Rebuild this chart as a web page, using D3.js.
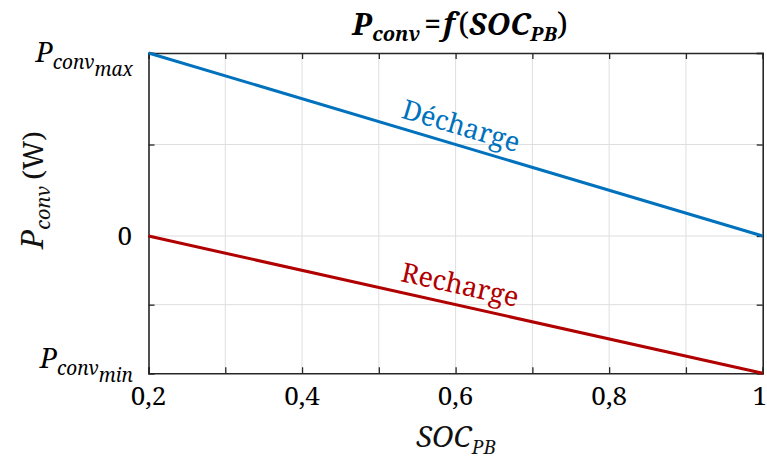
<!DOCTYPE html>
<html><head><meta charset="utf-8">
<script src="https://cdn.jsdelivr.net/npm/d3@7/dist/d3.min.js"></script>
</head>
<body style="margin:0"><svg id="c" width="767" height="464"></svg>
<script>
// Data
const socValues = [0.2, 1.0];
const dechargeValues = [4, 0];     // P_conv_max -> 0
const rechargeValues = [0, -3];    // 0 -> P_conv_min
const xTicks = [0.2, 0.3, 0.4, 0.5, 0.6, 0.7, 0.8, 0.9, 1.0];
const xTickLabels = ["0,2", "", "0,4", "", "0,6", "", "0,8", "", "1"];
const yTicks = [-3, -1.5, 0, 2, 4];
const yTickLabels = ["min", "", "0", "", "max"];

const FF = '"Noto Serif"';
const svg = d3.select("#c");
const L = 148.5, R = 762.7, T = 53, B = 373.3;
const x = d3.scaleLinear().domain([0.2, 1]).range([L, R]);
const y = d3.scaleLinear().domain([-3, 4]).range([B, T]);

// grid
const g = svg.append("g");
g.selectAll(".vg").data(xTicks.slice(1, -1)).enter().append("line")
  .attr("x1", d => x(d)).attr("x2", d => x(d)).attr("y1", T).attr("y2", B)
  .attr("stroke", "#dedede").attr("stroke-width", 1);
g.selectAll(".hg").data(yTicks.slice(1, -1)).enter().append("line")
  .attr("y1", d => y(d)).attr("y2", d => y(d)).attr("x1", L).attr("x2", R)
  .attr("stroke", "#dedede").attr("stroke-width", 1);

// axes with inward ticks
const axB = d3.axisBottom(x).tickValues(xTicks).tickSize(-6).tickFormat("");
const axT = d3.axisTop(x).tickValues(xTicks).tickSize(-6).tickFormat("");
const axL = d3.axisLeft(y).tickValues(yTicks).tickSize(-6).tickFormat("");
const axR = d3.axisRight(y).tickValues(yTicks).tickSize(-6).tickFormat("");
function styleAx(sel){ sel.attr("font-family", null); sel.selectAll("path,line").attr("stroke","#262626").attr("stroke-width",1.3); sel.select(".domain").attr("stroke-width",1.6); }
svg.append("g").attr("transform",`translate(0,${B})`).call(axB).call(styleAx);
svg.append("g").attr("transform",`translate(0,${T})`).call(axT).call(styleAx);
svg.append("g").attr("transform",`translate(${L},0)`).call(axL).call(styleAx);
svg.append("g").attr("transform",`translate(${R},0)`).call(axR).call(styleAx);

// lines
const line = d3.line().x(d => x(d[0])).y(d => y(d[1]));
const blue = "#0072BD", red = "#B00000";
svg.append("path").datum(socValues.map((s,i)=>[s, dechargeValues[i]]))
  .attr("d", line).attr("fill","none").attr("stroke",blue).attr("stroke-width",3);
svg.append("path").datum(socValues.map((s,i)=>[s, rechargeValues[i]]))
  .attr("d", line).attr("fill","none").attr("stroke",red).attr("stroke-width",3);

// x tick labels
svg.selectAll(".xl").data(xTicks).enter().append("text")
  .attr("x", d => d === 1 ? 767 : x(d)).attr("y", 405)
  .attr("text-anchor", d => d === 1 ? "end" : "middle")
  .style("font-family", FF).attr("font-size", 26).attr("fill","#000")
  .text((d,i) => xTickLabels[i]);

// y tick labels
yTicks.forEach((v,i) => {
  const lab = yTickLabels[i];
  if (!lab) return;
  if (lab === "0") {
    svg.append("text").attr("x", 132).attr("y", y(v) + 9).attr("text-anchor","end")
      .style("font-family", FF).attr("font-size", 26).text("0");
  } else {
    const t = svg.append("text").attr("x", 133).attr("y", y(v) + (lab==="max"?9:-5))
      .attr("text-anchor","end").attr("font-style","italic").style("font-family", FF);
    t.append("tspan").attr("font-size", 28).text("P");
    t.append("tspan").attr("font-size", 19).attr("dy", 7).text("conv");
    t.append("tspan").attr("font-size", 19).attr("dy", 7).text(lab);
  }
});

// line labels along lines
function lineLabel(txt, fn, color, xv, off){
  const ang = Math.atan2(y(fn(1)) - y(fn(0.2)), x(1) - x(0.2)) * 180 / Math.PI;
  svg.append("text")
    .attr("transform", `translate(${x(xv)},${y(fn(xv))}) rotate(${ang})`)
    .attr("y", off).attr("text-anchor","middle").attr("font-size", 27)
    .style("font-family", FF).attr("fill", color).text(txt);
}
const fD = s => d3.scaleLinear().domain(socValues).range(dechargeValues)(s);
const fR = s => d3.scaleLinear().domain(socValues).range(rechargeValues)(s);
lineLabel("Décharge", fD, blue, 0.6, -10);
lineLabel("Recharge", fR, red, 0.6, -11);

// title
const tt = svg.append("text").attr("x", 460).attr("y", 35).attr("text-anchor","middle")
  .style("font-family", FF).attr("font-weight","bold").attr("font-style","italic");
tt.append("tspan").attr("font-size", 30).text("P");
tt.append("tspan").attr("font-size", 20).attr("dy", 6).text("conv");
tt.append("tspan").attr("font-size", 30).attr("dy", -6).attr("dx", 4).text("=");
tt.append("tspan").attr("font-size", 30).attr("dx", 2).text("f");
tt.append("tspan").attr("font-size", 31).attr("font-style","normal").attr("font-weight","normal").attr("dx", 3).text("(");
tt.append("tspan").attr("font-size", 30).text("SOC");
tt.append("tspan").attr("font-size", 20).attr("dy", 6).text("PB");
tt.append("tspan").attr("font-size", 31).attr("dy", -6).attr("font-style","normal").attr("font-weight","normal").text(")");

// x axis title
const xt = svg.append("text").attr("x", 456).attr("y", 447).attr("text-anchor","middle")
  .style("font-family", FF).attr("font-style","italic").attr("fill","#111");
xt.append("tspan").attr("font-size", 29).text("SOC");
xt.append("tspan").attr("font-size", 19).attr("dy", 7).text("PB");

// y axis title
const yt = svg.append("text").attr("transform","translate(43,190) rotate(-90)")
  .style("font-family", FF).attr("text-anchor","middle").attr("fill","#111");
yt.append("tspan").attr("font-size", 31).attr("font-style","italic").text("P");
yt.append("tspan").attr("font-size", 20).attr("font-style","italic").attr("dy", 7).text("conv");
yt.append("tspan").attr("font-size", 28).attr("dy", -7).attr("dx", 6).text("(W)");
</script></body></html>
